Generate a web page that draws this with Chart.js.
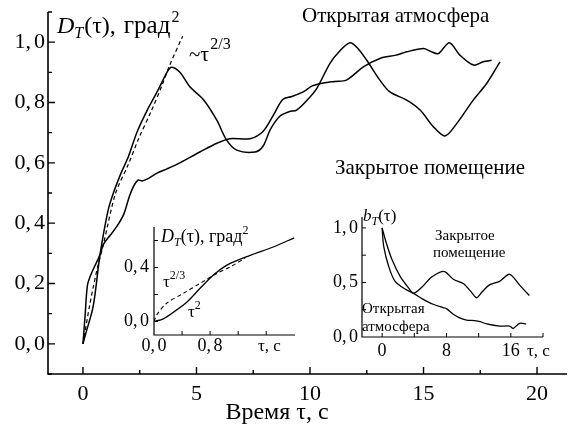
<!DOCTYPE html>
<html>
<head>
<meta charset="utf-8">
<script src="https://cdn.jsdelivr.net/npm/chart.js@4/dist/chart.umd.min.js"></script>
<style>
  body { margin: 0; background: #fff; }
  #wrap { position: relative; width: 570px; height: 428px; }
  canvas { position: absolute; }
</style>
</head>
<body>
<div id="wrap">
  <canvas id="main" width="570" height="428" style="left:0;top:0"></canvas>
  <canvas id="ins1" width="200" height="160" style="left:110px;top:205px"></canvas>
  <canvas id="ins2" width="250" height="175" style="left:320px;top:195px"></canvas>
</div>
<script>
// основной график: D_T(tau), град^2
const tauClosed = [0, 0.13, 0.45, 0.75, 1.1, 1.34, 1.7, 2.0, 2.37, 2.8, 3.3, 3.7, 3.9, 4.27, 4.71, 5.3, 5.89, 6.33, 6.77, 7.58, 7.93, 8.25, 8.68, 9.1, 9.41, 9.9, 10.3, 10.88, 11.3, 11.76, 12.1, 12.5, 13.08, 13.52, 14.26, 14.85, 15.43, 15.95, 16.46, 17.19, 17.78, 18.37];
const dClosed   = [0, 0.036, 0.124, 0.295, 0.44, 0.5, 0.57, 0.62, 0.70, 0.77, 0.84, 0.9, 0.917, 0.90, 0.852, 0.81, 0.742, 0.675, 0.642, 0.636, 0.655, 0.71, 0.755, 0.77, 0.775, 0.81, 0.847, 0.93, 0.97, 0.998, 0.98, 0.94, 0.874, 0.835, 0.808, 0.775, 0.72, 0.689, 0.73, 0.808, 0.863, 0.935];

const tauOpen = [0, 0.1, 0.2, 0.38, 0.75, 0.9, 1.2, 1.5, 1.8, 2.05, 2.25, 2.43, 2.6, 2.8, 3.26, 3.7, 4.27, 5.15, 5.9, 6.47, 7.36, 7.94, 8.4, 8.8, 9.2, 9.7, 10.1, 10.59, 11.1, 11.6, 12.35, 13.08, 13.8, 14.26, 15.0, 15.3, 15.65, 16.14, 16.6, 17.2, 17.63, 18.0];
const dOpen   = [0, 0.1, 0.195, 0.235, 0.295, 0.33, 0.36, 0.39, 0.43, 0.49, 0.525, 0.543, 0.54, 0.545, 0.566, 0.58, 0.6, 0.636, 0.665, 0.68, 0.68, 0.705, 0.76, 0.81, 0.82, 0.835, 0.855, 0.865, 0.87, 0.874, 0.918, 0.946, 0.957, 0.968, 0.979, 0.97, 0.962, 0.998, 0.957, 0.924, 0.935, 0.94];

const tauFit = [0, 0.3, 0.6, 0.9, 1.44, 2.0, 2.45, 3.0, 3.5, 3.8, 4.39];
const dFit   = [0, 0.13, 0.24, 0.33, 0.5, 0.595, 0.68, 0.77, 0.86, 0.92, 1.02];

// врезка 1: малые tau
const tauSmall  = [0, 0.133, 0.276, 0.467, 0.657, 0.847, 1.04, 1.37, 1.70, 2.0];
const dSmall    = [0, 0.02, 0.069, 0.143, 0.246, 0.344, 0.418, 0.49, 0.552, 0.62];
const tauSmallFit = [0, 0.04, 0.18, 0.42, 0.66, 0.895, 1.09, 1.3];
const dSmallFit   = [0, 0.05, 0.135, 0.209, 0.283, 0.356, 0.405, 0.47];

// врезка 2: b_T(tau)
const tauBClosed = [0, 0.53, 1.24, 2.26, 3.29, 3.9, 5.0, 6.0, 6.8, 7.4, 7.9, 8.85, 10.1, 11.0, 11.74, 12.5, 13.4, 14.6, 15.85, 17.1, 18.3];
const bClosed    = [1.0, 0.86, 0.707, 0.553, 0.45, 0.40, 0.46, 0.54, 0.58, 0.60, 0.595, 0.53, 0.49, 0.42, 0.36, 0.42, 0.48, 0.51, 0.575, 0.475, 0.38];
const tauBOpen = [0, 0.2, 0.82, 1.64, 3.09, 3.9, 5.0, 6.34, 7.57, 8.0, 8.8, 9.5, 10.5, 11.5, 12.2, 13.0, 14.6, 15.85, 16.3, 17.1, 17.9];
const bOpen    = [1.0, 0.83, 0.646, 0.507, 0.43, 0.40, 0.35, 0.30, 0.27, 0.26, 0.21, 0.18, 0.155, 0.15, 0.14, 0.12, 0.1, 0.1, 0.08, 0.125, 0.12];

// деления осей
const mainXMajor = [0, 5, 10, 15, 20];
const mainXMinor = [2.5, 7.5, 12.5, 17.5];
const mainYMajor = [0, 0.2, 0.4, 0.6, 0.8, 1.0];
const mainYMinor = [-0.1, 0.1, 0.3, 0.5, 0.7, 0.9, 1.1];
const ins1XTicks = [0.4, 0.8, 1.2, 1.6];
const ins1XLabels = [0, 0.8];
const ins1YTicks = [0, 0.2, 0.4, 0.6];
const ins1YLabels = [0, 0.4];
const ins2XTicks = [0, 4, 8, 12, 16, 20];
const ins2XLabels = [0, 8, 16];
const ins2YTicks = [0.25, 0.5, 0.75, 1.0];
const ins2YLabels = [0, 0.5, 1.0];

const FONT = '"Liberation Serif", "Times New Roman", serif';

function pts(xs, ys) {
    return xs.map((x, i) => ({ x: x, y: ys[i] }));
}

function dec(v) {
    return v.toFixed(1).replace('.', ',');
}

// число с запятой и небольшим отступом после неё
function drawNum(ctx, s, x, y, align, gap) {
    const parts = s.split(',');
    if (parts.length < 2) {
        ctx.textAlign = align;
        ctx.fillText(s, x, y);
        return;
    }
    const a = parts[0] + ',', b = parts[1];
    const wa = ctx.measureText(a).width, wb = ctx.measureText(b).width;
    const w = wa + gap + wb;
    const left = align === 'right' ? x - w : align === 'center' ? x - w / 2 : x;
    ctx.textAlign = 'left';
    ctx.fillText(a, left, y);
    ctx.fillText(b, left + wa + gap, y);
}

function line(data, w, dash) {
    return {
        data: data,
        borderColor: '#000',
        borderWidth: w,
        borderDash: dash || [],
        pointRadius: 0,
        tension: 0.3,
        fill: false
    };
}

// текст с индексами: [текст, размер, курсив, сдвиг, отступ слева]
function rich(ctx, x, y, parts, align) {
    let w = 0;
    parts.forEach(p => {
        ctx.font = (p[2] ? 'italic ' : '') + p[1] + 'px ' + FONT;
        w += ctx.measureText(p[0]).width + (p[4] || 0);
    });
    let cx = align === 'center' ? x - w / 2 : x;
    ctx.textAlign = 'left';
    parts.forEach(p => {
        ctx.font = (p[2] ? 'italic ' : '') + p[1] + 'px ' + FONT;
        cx += p[4] || 0;
        ctx.fillText(p[0], cx, y + (p[3] || 0));
        cx += ctx.measureText(p[0]).width;
    });
}

function axesPlugin(o) {
    return {
        id: 'axes_' + o.id,
        afterDraw(chart) {
            const ctx = chart.ctx, a = chart.chartArea;
            const xs = chart.scales.x, ys = chart.scales.y;
            ctx.save();
            ctx.strokeStyle = '#000';
            ctx.fillStyle = '#000';
            ctx.lineWidth = o.axisW;
            ctx.beginPath();
            ctx.moveTo(a.left, a.top);
            ctx.lineTo(a.left, a.bottom);
            ctx.lineTo(a.right, a.bottom);
            ctx.stroke();

            ctx.lineWidth = o.tickW;
            ctx.beginPath();
            o.xMajor.forEach(v => { const p = xs.getPixelForValue(v); ctx.moveTo(p, a.bottom); ctx.lineTo(p, a.bottom - o.major); });
            (o.xMinor || []).forEach(v => { const p = xs.getPixelForValue(v); ctx.moveTo(p, a.bottom); ctx.lineTo(p, a.bottom - o.minor); });
            o.yMajor.forEach(v => { const p = ys.getPixelForValue(v); ctx.moveTo(a.left, p); ctx.lineTo(a.left + o.major, p); });
            (o.yMinor || []).forEach(v => { const p = ys.getPixelForValue(v); ctx.moveTo(a.left, p); ctx.lineTo(a.left + o.minor, p); });
            ctx.stroke();

            ctx.font = o.fontSize + 'px ' + FONT;
            ctx.textBaseline = 'alphabetic';
            o.xLabels.forEach(v => drawNum(ctx, o.xFmt(v), xs.getPixelForValue(v), o.xBase, 'center', o.gap));
            ctx.textBaseline = 'middle';
            o.yLabels.forEach(v => drawNum(ctx, dec(v), o.yRight, ys.getPixelForValue(v), 'right', o.gap));
            ctx.textAlign = 'left';
            ctx.textBaseline = 'alphabetic';
            o.extra(ctx);
            ctx.restore();
        }
    };
}

function baseOptions(xmin, xmax, ymin, ymax, pad) {
    return {
        responsive: false,
        animation: false,
        devicePixelRatio: 1,
        layout: { padding: pad },
        plugins: { legend: { display: false }, tooltip: { enabled: false } },
        scales: {
            x: { type: 'linear', min: xmin, max: xmax, display: false },
            y: { type: 'linear', min: ymin, max: ymax, display: false }
        }
    };
}

window.onload = () => {
    new Chart(document.getElementById('main').getContext('2d'), {
        type: 'line',
        data: {
            datasets: [
                line(pts(tauClosed, dClosed), 1.5),
                line(pts(tauOpen, dOpen), 1.5),
                line(pts(tauFit, dFit), 1.2, [4, 3])
            ]
        },
        options: baseOptions(-1.54, 21.32, -0.1, 1.1, { left: 48, right: 3, top: 12, bottom: 54 }),
        plugins: [axesPlugin({
            id: 'main', axisW: 1.6, tickW: 1.4, major: 7, minor: 4, fontSize: 22, gap: 3,
            xMajor: mainXMajor, xMinor: mainXMinor, yMajor: mainYMajor, yMinor: mainYMinor,
            xLabels: mainXMajor, xFmt: v => String(v), xBase: 400,
            yLabels: mainYMajor, yRight: 45,
            extra(ctx) {
                rich(ctx, 57, 33, [['D', 24, true], ['T', 16, true, 5], ['(τ),', 24, false, 0, 1], ['град', 25, false, 0, 8], ['2', 16, false, -11, 1]]);
                rich(ctx, 189, 61, [['~', 21], ['τ', 22], ['2/3', 16, false, -12, 1]]);
                ctx.font = '21px ' + FONT;
                ctx.fillText('Открытая атмосфера', 302, 22);
                ctx.fillText('Закрытое помещение', 335, 174);
                rich(ctx, 277, 419, [['Время τ, с', 24]], 'center');
            }
        })]
    });

    new Chart(document.getElementById('ins1').getContext('2d'), {
        type: 'line',
        data: {
            datasets: [
                line(pts(tauSmall, dSmall), 1.3),
                line(pts(tauSmallFit, dSmallFit), 1.1, [4, 3])
            ]
        },
        options: baseOptions(0, 2.01, -0.1, 0.7, { left: 44, right: 15, top: 22, bottom: 30 }),
        plugins: [axesPlugin({
            id: 'ins1', axisW: 1.2, tickW: 1, major: 4, minor: 3, fontSize: 18, gap: 2.5,
            xMajor: ins1XTicks, yMajor: ins1YTicks,
            xLabels: ins1XLabels, xFmt: dec, xBase: 146,
            yLabels: ins1YLabels, yRight: 39,
            extra(ctx) {
                rich(ctx, 51, 37, [['D', 18, true], ['T', 12, true, 4], ['(τ), град', 18], ['2', 12, false, -8]]);
                rich(ctx, 53, 82, [['τ', 17], ['2/3', 12, false, -8]]);
                rich(ctx, 78, 112, [['τ', 17], ['2', 12, false, -8]]);
                rich(ctx, 148, 146, [['τ, с', 17]]);
            }
        })]
    });

    new Chart(document.getElementById('ins2').getContext('2d'), {
        type: 'line',
        data: {
            datasets: [
                line(pts(tauBClosed, bClosed), 1.3),
                line(pts(tauBOpen, bOpen), 1.3)
            ]
        },
        options: baseOptions(-2.5, 20, 0, 1.1, { left: 42, right: 27, top: 22, bottom: 33 }),
        plugins: [axesPlugin({
            id: 'ins2', axisW: 1.2, tickW: 1, major: 4, minor: 3, fontSize: 18, gap: 2.5,
            xMajor: ins2XTicks, yMajor: ins2YTicks,
            xLabels: ins2XLabels, xFmt: v => String(v), xBase: 161,
            yLabels: ins2YLabels, yRight: 38,
            extra(ctx) {
                rich(ctx, 43, 26, [['b', 17, true], ['T', 12, true, 4], ['(τ)', 17]]);
                ctx.font = '15px ' + FONT;
                ctx.fillText('Закрытое', 115, 45);
                ctx.fillText('помещение', 113, 62);
                ctx.fillText('Открытая', 42, 118);
                ctx.fillText('атмосфера', 42, 136);
                rich(ctx, 207, 161, [['τ, с', 17]]);
            }
        })]
    });
};
</script>
</body>
</html>
